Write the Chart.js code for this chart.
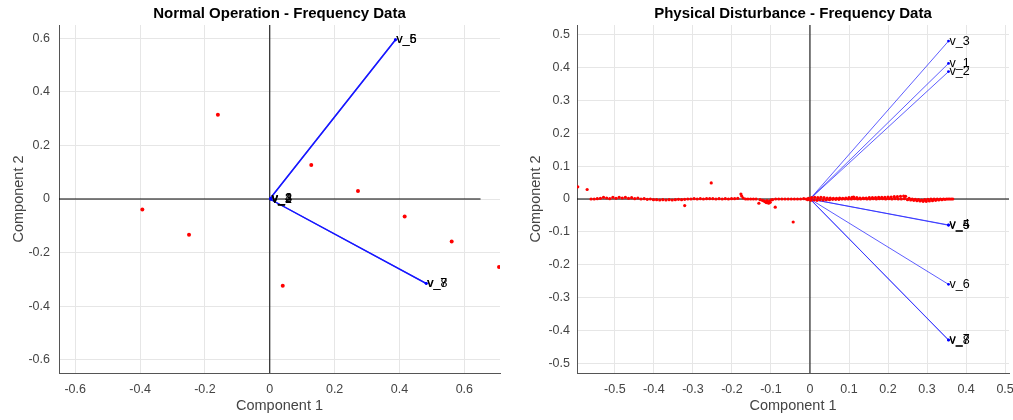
<!DOCTYPE html>
<html>
<head>
<meta charset="utf-8">
<script src="https://cdn.jsdelivr.net/npm/chart.js@4"></script>
<style>
  body { margin: 0; background: #fff; }
  .panel { position: absolute; top: 0; height: 420px; }
</style>
</head>
<body>
<div class="panel" style="left:0;width:506px"><canvas id="normalChart" width="506" height="420"></canvas></div>
<div class="panel" style="left:506px;width:507px"><canvas id="disturbChart" width="507" height="420"></canvas></div>
<script>
// ---- Normal operation biplot data ----
const normalVarNames = ['v_1', 'v_2', 'v_3', 'v_4', 'v_5', 'v_6', 'v_7', 'v_8'];
const normalVarX = [0.002, 0.003, 0.004, 0.003, 0.387, 0.388, 0.482, 0.483];
const normalVarY = [0.001, -0.001, 0.000, 0.002, 0.594, 0.595, -0.315, -0.316];
const normalScoreX = [-0.393, -0.249, -0.160, 0.128, 0.272, 0.040, 0.416, 0.561, 0.707];
const normalScoreY = [-0.039, -0.134, 0.315, 0.127, 0.030, -0.324, -0.065, -0.159, -0.254];
const normalXRange = [-0.65, 0.71];
const normalYRange = [-0.65, 0.65];
const normalXTicks = [-0.6, -0.4, -0.2, 0, 0.2, 0.4, 0.6];
const normalYTicks = [-0.6, -0.4, -0.2, 0, 0.2, 0.4, 0.6];

// ---- Physical disturbance biplot data ----
const disturbVarNames = ['v_1', 'v_2', 'v_3', 'v_4', 'v_5', 'v_6', 'v_7', 'v_8'];
const disturbVarX = [0.355, 0.355, 0.355, 0.355, 0.355, 0.355, 0.355, 0.355];
const disturbVarY = [0.413, 0.388, 0.481, -0.079, -0.080, -0.260, -0.429, -0.430];
// scores for negative component 1
const disturbScoresNeg = [
  [-0.595, 0.037], [-0.571, 0.029], [-0.561, 0.000], [-0.553, 0.000], [-0.545, 0.001],
  [-0.537, 0.002], [-0.529, 0.005], [-0.521, 0.003], [-0.513, 0.001], [-0.505, 0.005],
  [-0.497, 0.002], [-0.489, 0.005], [-0.481, 0.003], [-0.473, 0.005], [-0.465, 0.002],
  [-0.457, 0.004], [-0.449, 0.001], [-0.441, 0.003], [-0.433, 0.000], [-0.425, 0.001],
  [-0.417, -0.001], [-0.409, 0.000], [-0.401, -0.002], [-0.393, -0.002], [-0.385, -0.003],
  [-0.377, -0.002], [-0.369, -0.003], [-0.361, -0.002], [-0.353, -0.003], [-0.345, -0.002],
  [-0.337, -0.001], [-0.329, -0.002], [-0.321, -0.020], [-0.321, -0.001], [-0.313, 0.000],
  [-0.305, 0.000], [-0.297, 0.001], [-0.289, 0.000], [-0.281, 0.001], [-0.273, 0.000],
  [-0.265, 0.001], [-0.253, 0.049], [-0.257, 0.001], [-0.249, 0.001], [-0.241, 0.000],
  [-0.233, 0.001], [-0.225, 0.000], [-0.217, 0.001], [-0.209, 0.000], [-0.201, 0.001],
  [-0.193, 0.001], [-0.185, 0.002], [-0.177, 0.015], [-0.175, 0.009], [-0.171, 0.003],
  [-0.165, 0.000], [-0.159, 0.000], [-0.152, 0.000], [-0.145, 0.000], [-0.138, 0.000],
  [-0.131, -0.013], [-0.128, -0.002], [-0.122, -0.004], [-0.118, -0.006], [-0.115, -0.008],
  [-0.112, -0.011], [-0.110, -0.005], [-0.108, -0.009], [-0.106, -0.013], [-0.104, -0.007],
  [-0.102, -0.010], [-0.100, -0.003], [-0.096, -0.002], [-0.089, -0.025], [-0.088, 0.000],
  [-0.080, 0.000], [-0.072, 0.000], [-0.064, 0.000], [-0.056, 0.000], [-0.048, 0.000],
  [-0.043, -0.070], [-0.040, 0.000], [-0.032, 0.000], [-0.024, 0.000], [-0.016, 0.001],
  [-0.010, 0.000], [-0.006, -0.002], [-0.004, 0.002], [-0.002, 0.000]
];
// scores for positive component 1
const disturbScoresPos = [
  [0.004, 0.004], [0.012, 0.005], [0.020, 0.004], [0.028, 0.005], [0.036, 0.004],
  [0.044, 0.003], [0.052, 0.003], [0.060, 0.002], [0.068, 0.002], [0.076, 0.003],
  [0.084, 0.002], [0.092, 0.003], [0.100, 0.004], [0.108, 0.005], [0.112, 0.006],
  [0.120, 0.004], [0.128, 0.003], [0.136, 0.003], [0.144, 0.003], [0.152, 0.004],
  [0.160, 0.004], [0.168, 0.004], [0.176, 0.005], [0.184, 0.005], [0.192, 0.005],
  [0.200, 0.006], [0.208, 0.006], [0.216, 0.007], [0.224, 0.007], [0.232, 0.008],
  [0.240, 0.009], [0.245, 0.008],
  [0.002, -0.004], [0.010, -0.003], [0.018, -0.004], [0.026, -0.002], [0.034, -0.003],
  [0.042, -0.002], [0.050, -0.002], [0.058, -0.001], [0.066, -0.001], [0.074, -0.001],
  [0.082, 0.000], [0.090, 0.000], [0.098, 0.000], [0.106, 0.000], [0.114, 0.001],
  [0.122, 0.000], [0.130, 0.000], [0.138, 0.001], [0.146, 0.000], [0.154, 0.000],
  [0.162, 0.001], [0.170, 0.000], [0.178, 0.001], [0.186, 0.001], [0.194, 0.000],
  [0.202, 0.001], [0.210, 0.000], [0.218, 0.001], [0.226, 0.000], [0.234, 0.000],
  [0.242, 0.001], [0.250, -0.002], [0.258, -0.003], [0.266, -0.004], [0.274, -0.005],
  [0.282, -0.006], [0.290, -0.007], [0.298, -0.007], [0.306, -0.006], [0.314, -0.005],
  [0.322, -0.004], [0.330, -0.003], [0.338, -0.002], [0.346, -0.001], [0.354, 0.000],
  [0.362, 0.000],
  [0.254, 0.002], [0.262, 0.000], [0.270, -0.001], [0.278, -0.002], [0.286, -0.003],
  [0.294, -0.002], [0.302, -0.001], [0.310, 0.000], [0.318, 0.000], [0.326, 0.000],
  [0.334, 0.000], [0.342, 0.000], [0.350, 0.000], [0.358, 0.000], [0.366, 0.000]
];
const disturbXRange = [-0.597, 0.51];
const disturbYRange = [-0.53, 0.53];
const disturbXTicks = [-0.5, -0.4, -0.3, -0.2, -0.1, 0, 0.1, 0.2, 0.3, 0.4, 0.5];
const disturbYTicks = [-0.5, -0.4, -0.3, -0.2, -0.1, 0, 0.1, 0.2, 0.3, 0.4, 0.5];

Chart.defaults.font.family = '"Liberation Sans", Arial, sans-serif';
Chart.defaults.animation = false;

// draws the variable names at the tip of each loading vector
const vectorLabels = {
  id: 'vectorLabels',
  afterDatasetsDraw(chart, args, opts) {
    const ctx = chart.ctx;
    const xs = chart.scales.x, ys = chart.scales.y;
    ctx.save();
    ctx.font = '12.5px "Liberation Sans", Arial, sans-serif';
    ctx.fillStyle = '#000';
    ctx.textBaseline = 'middle';
    opts.names.forEach((name, i) => {
      ctx.fillText(name, xs.getPixelForValue(opts.xs[i]) + 1, ys.getPixelForValue(opts.ys[i]));
    });
    ctx.restore();
  }
};

function fmtTick(v) {
  return String(Math.round(v * 100) / 100);
}

function makeBiplot(canvasId, cfg) {
  const datasets = [];

  // scores (red dots) on top
  datasets.push({
    data: cfg.scoreX.map((x, i) => ({ x: x, y: cfg.scoreY[i] })),
    pointRadius: cfg.dotRadius,
    pointBackgroundColor: '#ff0000',
    pointBorderWidth: 0,
    showLine: false,
    order: 0
  });

  // loading vectors
  cfg.varX.forEach((vx, i) => {
    datasets.push({
      data: [{ x: 0, y: 0 }, { x: vx, y: cfg.varY[i] }],
      borderColor: cfg.vecColor,
      borderWidth: cfg.vecWidth,
      pointRadius: [0, 1.4],
      pointBackgroundColor: '#0000ff',
      pointBorderWidth: 0,
      showLine: true,
      order: 1
    });
  });

  // black zero lines
  datasets.push({
    data: [{ x: cfg.hLine[0], y: 0 }, { x: cfg.hLine[1], y: 0 }],
    borderColor: '#000', borderWidth: 1, pointRadius: 0, showLine: true, order: 2
  });
  datasets.push({
    data: [{ x: 0, y: cfg.yRange[0] }, { x: 0, y: cfg.yRange[1] }],
    borderColor: '#000', borderWidth: 1, pointRadius: 0, showLine: true, order: 2
  });

  const gridStyle = { color: '#e6e6e6', lineWidth: 1, drawTicks: false };
  const borderStyle = { color: '#555', width: 1 };
  const tickFont = { size: 12.5 };

  new Chart(document.getElementById(canvasId).getContext('2d'), {
    type: 'scatter',
    data: { datasets: datasets },
    plugins: [vectorLabels],
    options: {
      responsive: false,
      layout: { padding: { left: 0, right: cfg.padRight, top: 0, bottom: 0 } },
      plugins: {
        legend: { display: false },
        tooltip: { enabled: false },
        title: {
          display: true,
          text: cfg.title,
          fullSize: false,
          color: '#000',
          font: { size: 15, weight: 'bold' },
          padding: { top: 5, bottom: 2 }
        },
        vectorLabels: { names: cfg.varNames, xs: cfg.varX, ys: cfg.varY }
      },
      scales: {
        x: {
          type: 'linear',
          min: cfg.xRange[0],
          max: cfg.xRange[1],
          grid: gridStyle,
          border: borderStyle,
          ticks: { color: '#444', font: tickFont, padding: 9, maxRotation: 0, callback: fmtTick },
          title: { display: true, text: 'Component 1', color: '#444', font: { size: 14.5 }, padding: { top: 0, bottom: 5 } },
          afterBuildTicks: s => { s.ticks = cfg.xTicks.map(v => ({ value: v })); },
          afterFit: s => { s.height = 47; s.paddingLeft = 0; s.paddingRight = 0; }
        },
        y: {
          type: 'linear',
          min: cfg.yRange[0],
          max: cfg.yRange[1],
          grid: gridStyle,
          border: borderStyle,
          ticks: { color: '#444', font: tickFont, padding: cfg.yTickPad, callback: fmtTick },
          title: { display: true, text: 'Component 2', color: '#444', font: { size: 14.5 }, padding: { top: cfg.yTitlePad, bottom: 0 } },
          afterBuildTicks: s => { s.ticks = cfg.yTicks.map(v => ({ value: v })); },
          afterFit: s => { s.width = cfg.yAxisWidth; s.paddingTop = 0; s.paddingBottom = 0; }
        }
      }
    }
  });
}

makeBiplot('normalChart', {
  title: 'Normal Operation - Frequency Data',
  varNames: normalVarNames, varX: normalVarX, varY: normalVarY,
  scoreX: normalScoreX, scoreY: normalScoreY,
  xRange: normalXRange, yRange: normalYRange,
  xTicks: normalXTicks, yTicks: normalYTicks,
  hLine: [-0.65, 0.65],
  dotRadius: 2,
  vecColor: 'rgba(20,20,255,0.9)', vecWidth: 1.3,
  yAxisWidth: 59, padRight: 6, yTickPad: 9, yTitlePad: 10
});

makeBiplot('disturbChart', {
  title: 'Physical Disturbance - Frequency Data',
  varNames: disturbVarNames, varX: disturbVarX, varY: disturbVarY,
  scoreX: disturbScoresNeg.concat(disturbScoresPos).map(p => p[0]),
  scoreY: disturbScoresNeg.concat(disturbScoresPos).map(p => p[1]),
  xRange: disturbXRange, yRange: disturbYRange,
  xTicks: disturbXTicks, yTicks: disturbYTicks,
  hLine: disturbXRange,
  dotRadius: 1.6,
  vecColor: 'rgba(40,40,255,0.75)', vecWidth: 1,
  yAxisWidth: 71, padRight: 2, yTickPad: 7, yTitlePad: 21
});
</script>
</body>
</html>
